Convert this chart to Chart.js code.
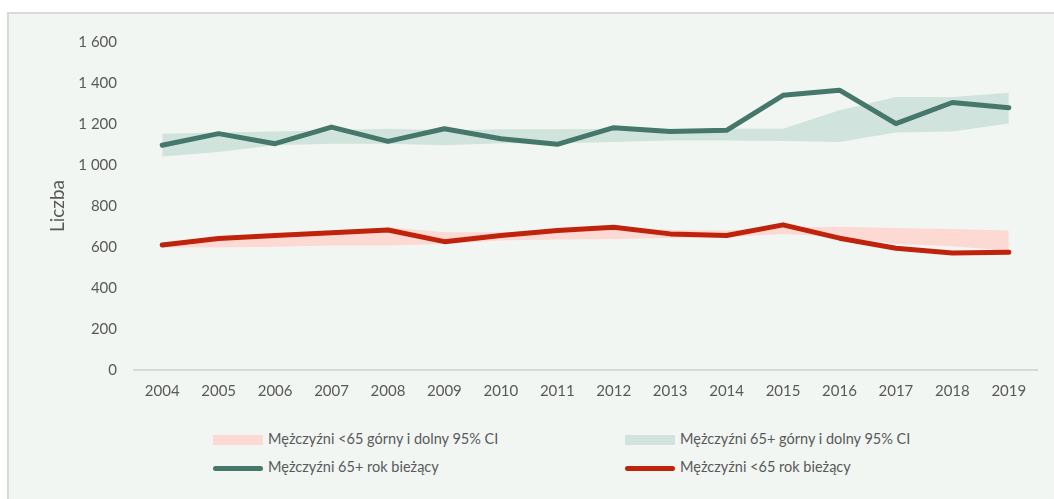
<!DOCTYPE html>
<html>
<head>
<meta charset="utf-8">
<script src="https://cdn.jsdelivr.net/npm/chart.js@4"></script>
<style>
  body { margin: 0; background: #fff; width: 1054px; height: 499px; overflow: hidden; font-family: Lato, sans-serif; }
  #box { position: absolute; left: 7px; top: 12px; width: 1047px; height: 487px; background: #f2f6f3; border-top: 2px solid #d9d9d9; border-left: 2px solid #d9d9d9; }
  #wrap { position: absolute; left: 0; top: 0; width: 1054px; height: 422px; }
  .lg { position: absolute; font-size: 14.5px; color: #595959; white-space: nowrap; }
  .lg span { display: inline-block; vertical-align: middle; margin-right: 5px; }
</style>
</head>
<body>
<div id="box"></div>
<div id="wrap"><canvas id="chart"></canvas></div>
<div id="legend"></div>
<script>
var years = ['2004','2005','2006','2007','2008','2009','2010','2011','2012','2013','2014','2015','2016','2017','2018','2019'];

// Mężczyźni 65+
var old_now   = [1096, 1153, 1104, 1185, 1115, 1177, 1128, 1101, 1182, 1163, 1169, 1340, 1365, 1202, 1305, 1279];
var old_upper = [1153, 1158, 1163, 1169, 1177, 1169, 1175, 1175, 1177, 1177, 1177, 1177, 1267, 1332, 1332, 1352];
var old_lower = [1042, 1063, 1096, 1104, 1104, 1096, 1106, 1106, 1112, 1120, 1120, 1117, 1112, 1158, 1163, 1202];

// Mężczyźni <65
var young_now   = [610, 641, 656, 670, 683, 626, 656, 680, 696, 664, 656, 708, 643, 594, 571, 574];
var young_upper = [618, 647, 660, 664, 696, 672, 672, 688, 696, 683, 680, 696, 699, 693, 688, 680];
var young_lower = [598, 598, 601, 607, 607, 615, 632, 636, 639, 644, 648, 664, 650, 615, 604, 582];

var yTicks = [0, 200, 400, 600, 800, 1000, 1200, 1400, 1600];

var GREEN = '#45786a', RED = '#c0230b';
var GREEN_BAND = '#d0e3dc', RED_BAND = '#fdd9d3';

function band(data, color, fillTo) {
  return {
    label: '', data: data, borderWidth: 0, pointRadius: 0,
    backgroundColor: color, fill: fillTo, order: 2
  };
}

var datasets = [
  band(young_lower, RED_BAND, false),
  band(young_upper, RED_BAND, '-1'),
  band(old_lower, GREEN_BAND, false),
  band(old_upper, GREEN_BAND, '-1'),
  { label: 'Mężczyźni 65+ rok bieżący', data: old_now, borderColor: GREEN, borderWidth: 5,
    pointRadius: 0, fill: false, borderCapStyle: 'round', borderJoinStyle: 'round', order: 0 },
  { label: 'Mężczyźni <65 rok bieżący', data: young_now, borderColor: RED, borderWidth: 5,
    pointRadius: 0, fill: false, borderCapStyle: 'round', borderJoinStyle: 'round', order: 0 }
];

var chart = new Chart(document.getElementById('chart'), {
  type: 'line',
  data: { labels: years, datasets: datasets },
  options: {
    responsive: true,
    maintainAspectRatio: false,
    animation: false,
    layout: { padding: { left: 46, right: 17, top: 42, bottom: 10 } },
    plugins: { legend: { display: false }, tooltip: { enabled: false } },
    scales: {
      x: {
        offset: true,
        grid: { display: false, drawTicks: false },
        border: { color: '#d9d9d9', width: 2 },
        ticks: { color: '#595959', font: { family: 'Lato', size: 15 }, padding: 12 }
      },
      y: {
        min: 0, max: 1600,
        afterFit: function (s) { s.width = 88; },
        afterBuildTicks: function (s) { s.ticks = yTicks.map(function (v) { return { value: v }; }); },
        grid: { display: false, drawTicks: false },
        border: { display: false },
        ticks: {
          color: '#595959', font: { family: 'Lato', size: 15 }, padding: 17,
          callback: function (v) { return String(v).replace(/\B(?=(\d{3})+(?!\d))/g, ' '); }
        },
        title: { display: true, text: 'Liczba', color: '#595959', font: { family: 'Lato', size: 19 }, padding: 0 }
      }
    }
  }
});

// legend below the chart, two columns
var items = [
  { text: 'Mężczyźni <65 górny i dolny 95% CI', color: RED_BAND, box: true, x: 213, y: 440 },
  { text: 'Mężczyźni 65+ górny i dolny 95% CI', color: GREEN_BAND, box: true, x: 625, y: 440 },
  { text: 'Mężczyźni 65+ rok bieżący', color: GREEN, box: false, x: 213, y: 468 },
  { text: 'Mężczyźni <65 rok bieżący', color: RED, box: false, x: 625, y: 468 }
];
var lg = document.getElementById('legend');
items.forEach(function (it) {
  var d = document.createElement('div');
  d.className = 'lg';
  d.style.left = it.x + 'px';
  d.style.top = (it.y - 10) + 'px';
  var sw = document.createElement('span');
  sw.style.width = '50px';
  sw.style.height = it.box ? '10px' : '5px';
  sw.style.background = it.color;
  if (!it.box) sw.style.borderRadius = '3px';
  d.appendChild(sw);
  d.appendChild(document.createTextNode(it.text));
  lg.appendChild(d);
});
</script>
</body>
</html>
